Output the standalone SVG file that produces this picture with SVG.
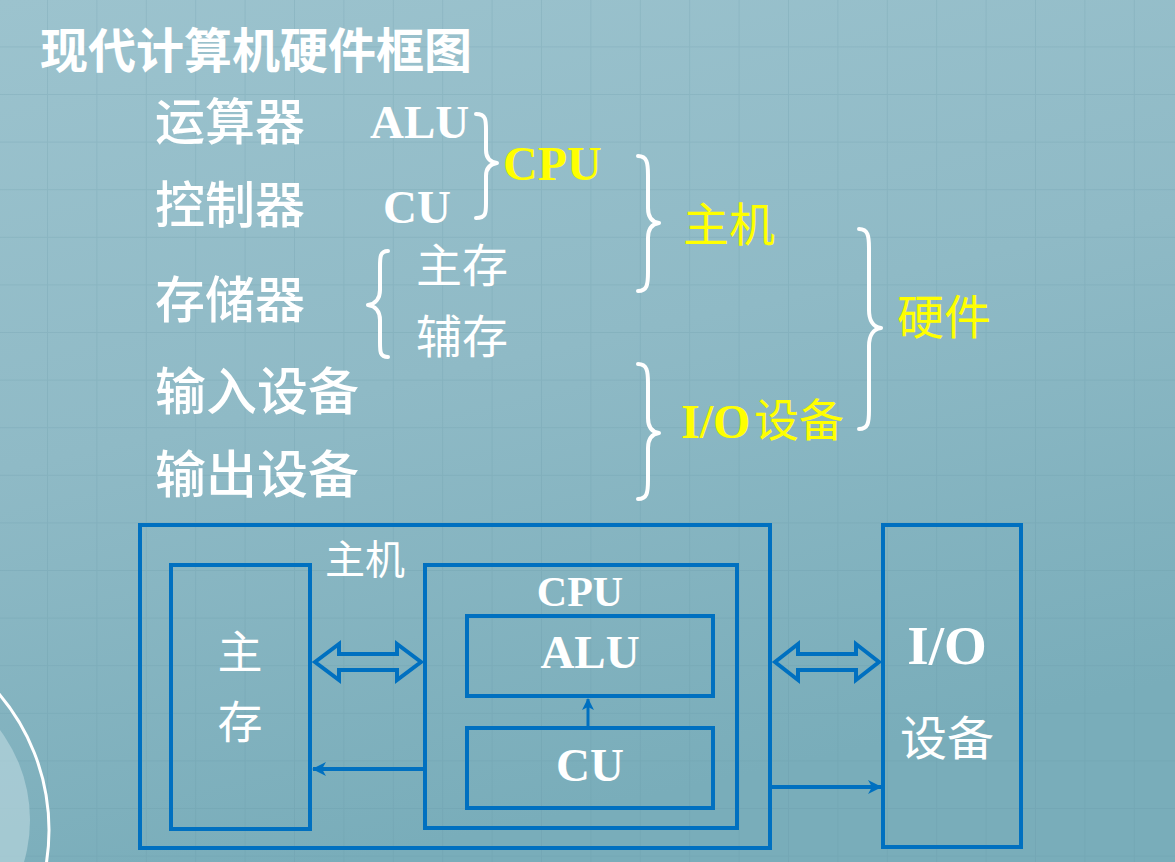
<svg xmlns="http://www.w3.org/2000/svg" width="1175" height="862" viewBox="0 0 1175 862">
  <defs>
    <linearGradient id="bg" x1="0" y1="0" x2="0.3" y2="1">
      <stop offset="0" stop-color="#9cc3ce"/>
      <stop offset="0.5" stop-color="#8fbac6"/>
      <stop offset="1" stop-color="#79adba"/>
    </linearGradient>
    <pattern id="grid" patternUnits="userSpaceOnUse" x="47" y="46.4" width="49.4" height="47.6">
      <path d="M0 0 V47.6 M0 0 H49.4" stroke="#5e8f9e" stroke-opacity="0.2" stroke-width="2" fill="none"/>
    </pattern>
    <marker id="ah" viewBox="0 0 14 14" refX="13" refY="7" markerWidth="14" markerHeight="14" markerUnits="userSpaceOnUse" orient="auto">
      <path d="M0 0 L14 7 L0 14 L4 7 Z" fill="#0070c0"/>
    </marker>
    <marker id="ahs" viewBox="0 0 12 12" refX="11" refY="6" markerWidth="12" markerHeight="12" markerUnits="userSpaceOnUse" orient="auto">
      <path d="M0 0 L12 6 L0 12 L3 6 Z" fill="#0070c0"/>
    </marker>
  </defs>
  <style>
    .title { font-family: "Noto Sans CJK SC", sans-serif; font-weight: 700; font-size: 48px; fill: #ffffff; }
    .cjk { font-family: "Noto Sans CJK SC", sans-serif; fill: #ffffff; }
    .med { font-weight: 500; }
    .lat { font-family: "Liberation Serif", "Times New Roman", serif; font-weight: 700; fill: #ffffff; }
    .yel { fill: #ffff00; }
    .brace { fill: none; stroke: #ffffff; stroke-width: 4; stroke-linecap: round; stroke-linejoin: round; }
    .box { fill: none; stroke: #0070c0; stroke-width: 4; }
    .dbl { fill: none; stroke: #0070c0; stroke-width: 4; stroke-linejoin: miter; }
    .line { fill: none; stroke: #0070c0; stroke-width: 4; }
  </style>

  <rect x="0" y="0" width="1175" height="862" fill="url(#bg)"/>
  <rect x="0" y="0" width="1175" height="862" fill="url(#grid)"/>
  <circle cx="-120" cy="820" r="150" fill="#b2d2da" fill-opacity="0.75"/>
  <circle cx="-161" cy="830" r="210" fill="none" stroke="#ffffff" stroke-width="3"/>

  <text class="title" x="40" y="68">现代计算机硬件框图</text>

  <g id="list">
    <text class="cjk med" x="155" y="140" font-size="50">运算器</text>
    <text class="cjk med" x="155" y="223" font-size="50">控制器</text>
    <text class="cjk med" x="155" y="318" font-size="50">存储器</text>
    <text class="cjk med" x="155" y="410" font-size="51">输入设备</text>
    <text class="cjk med" x="155" y="493" font-size="51">输出设备</text>
  </g>

  <g id="cpu-group">
    <text class="lat" x="370" y="138" font-size="47">ALU</text>
    <text class="lat" x="383" y="223" font-size="47">CU</text>
    <path class="brace" d="M476 114 C486 114 486 120 486 130 L486 150 C486 158 490 162 497 163 C490 164 486 168 486 176 L486 203 C486 213 486 218 476 218"/>
    <text class="lat yel" x="503" y="180" font-size="48">CPU</text>
  </g>

  <g id="storage-group">
    <path class="brace" d="M388 251 C380 251 380 257 380 267 L380 290 C380 299 375 304 368 305 C375 306 380 311 380 320 L380 342 C380 352 380 357 388 357"/>
    <text class="cjk" x="416" y="282" font-size="46">主存</text>
    <text class="cjk" x="416" y="353" font-size="46">辅存</text>
  </g>

  <g id="host-group">
    <path class="brace" d="M638 156 C647 156 648 163 648 175 L648 208 C648 217 652 222 659 223 C652 224 648 229 648 238 L648 272 C648 285 647 291 638 291"/>
    <text class="cjk yel" x="683" y="241" font-size="46">主机</text>
  </g>

  <g id="io-group">
    <path class="brace" d="M638 364 C647 364 648 371 648 383 L648 418 C648 427 652 432 659 433 C652 434 648 439 648 448 L648 480 C648 493 647 499 638 499"/>
    <text class="lat yel" x="681" y="438" font-size="48">I/O</text>
    <text class="cjk yel" x="754" y="437" font-size="45">设备</text>
  </g>

  <g id="hw-group">
    <path class="brace" d="M859 229 C868 229 869 236 869 248 L869 310 C869 320 873 327 881 328 C873 329 869 336 869 346 L869 410 C869 423 868 429 859 429"/>
    <text class="cjk yel" x="897" y="334" font-size="47">硬件</text>
  </g>

  <g id="host-box">
    <rect class="box" x="140" y="525" width="630" height="323"/>
    <text class="cjk" x="325" y="574" font-size="40">主机</text>
  </g>
  <g id="mem-box">
    <rect class="box" x="171" y="565" width="139" height="264"/>
    <text class="cjk" x="240" y="669" font-size="45" text-anchor="middle">主</text>
    <text class="cjk" x="240" y="739" font-size="45" text-anchor="middle">存</text>
  </g>
  <g id="cpu-box">
    <rect class="box" x="425" y="565" width="312" height="263"/>
    <text class="lat" x="580" y="606" font-size="42" text-anchor="middle">CPU</text>
  </g>
  <g id="alu-box">
    <rect class="box" x="467" y="616" width="246" height="80"/>
    <text class="lat" x="590" y="668" font-size="47" text-anchor="middle">ALU</text>
  </g>
  <g id="cu-box">
    <rect class="box" x="467" y="728" width="246" height="80"/>
    <text class="lat" x="590" y="781" font-size="47" text-anchor="middle">CU</text>
  </g>
  <g id="io-box">
    <rect class="box" x="883" y="525" width="138" height="322"/>
    <text class="lat" x="947" y="664" font-size="55" text-anchor="middle">I/O</text>
    <text class="cjk" x="947" y="755" font-size="47" text-anchor="middle">设备</text>
  </g>

  <g id="connectors">
    <polygon class="dbl" points="315,662 339,644 339,654 397,654 397,644 421,662 397,680 397,670 339,670 339,680"/>
    <polygon class="dbl" points="775,662 798,644 798,654 856,654 856,644 879,662 856,680 856,670 798,670 798,680"/>
    <line class="line" x1="425" y1="769" x2="313" y2="769" marker-end="url(#ah)"/>
    <line class="line" x1="772" y1="787" x2="881" y2="787" marker-end="url(#ah)"/>
    <line x1="588" y1="726" x2="588" y2="699" stroke="#0070c0" stroke-width="3" marker-end="url(#ahs)"/>
  </g>
</svg>
